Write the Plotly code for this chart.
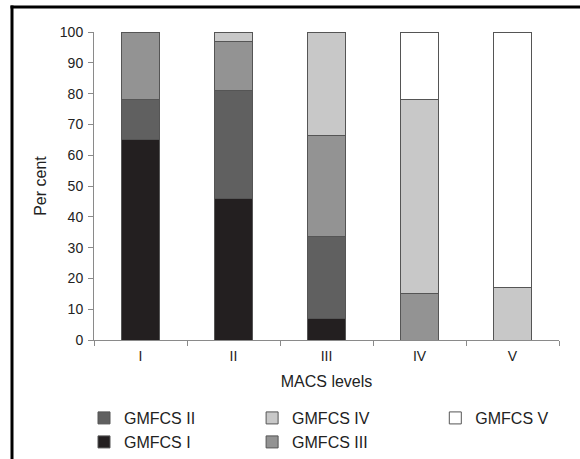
import plotly.graph_objects as go

categories = ["I", "II", "III", "IV", "V"]
gmfcs_1 = [65, 46, 7, None, None]
gmfcs_2 = [13, 35, 26.5, None, None]
gmfcs_3 = [22, 16, 33, 15, None]
gmfcs_4 = [None, 3, 33.5, 63, 17]
gmfcs_5 = [None, None, None, 22, 83]
series_names = ["GMFCS I", "GMFCS II", "GMFCS III", "GMFCS IV", "GMFCS V"]
series_values = [gmfcs_1, gmfcs_2, gmfcs_3, gmfcs_4, gmfcs_5]
colors = ["#231f20", "#606060", "#939393", "#c8c8c8", "#ffffff"]
y_ticks = list(range(0, 101, 10))

# legend placement: (legend id, paper x, container y)
legend_slots = {
    "GMFCS II": ("legend", -0.0215, 0.0893),
    "GMFCS I": ("legend2", -0.0215, 0.0370),
    "GMFCS IV": ("legend3", 0.340, 0.0893),
    "GMFCS III": ("legend4", 0.340, 0.0370),
    "GMFCS V": ("legend5", 0.734, 0.0893),
}

fig = go.Figure()
for name, vals, col in zip(series_names, series_values, colors):
    fig.add_trace(go.Bar(
        x=categories, y=vals, name=name,
        marker=dict(color=col, line=dict(color="#555555", width=1)),
        width=0.41,
        legend=legend_slots[name][0],
    ))

family = "Liberation Sans, Arial, sans-serif"
tick_font = dict(family=family, size=14, color="#222222")
big_font = dict(family=family, size=16, color="#222222")
layout_legends = {}
for name, (lid, lx, ly) in legend_slots.items():
    layout_legends[lid] = dict(x=lx, y=ly, xanchor="left", yanchor="middle",
                               yref="container",
                               bgcolor="rgba(0,0,0,0)", borderwidth=0,
                               font=big_font, itemclick=False)

fig.update_layout(
    width=580, height=459,
    margin=dict(l=94, r=21, t=32, b=119),
    paper_bgcolor="white", plot_bgcolor="white",
    barmode="stack",
    font=tick_font,
    showlegend=True,
    **layout_legends,
    xaxis=dict(
        showline=True, linecolor="#8a8a8a", linewidth=1,
        ticks="outside", tickson="boundaries", ticklen=5, tickcolor="#8a8a8a",
        showgrid=False, zeroline=False, tickfont=tick_font,
        ticklabelstandoff=3,
        title=dict(text="MACS levels", standoff=13, font=big_font),
        automargin=False,
    ),
    yaxis=dict(
        range=[0, 100], tickvals=y_ticks,
        showline=True, linecolor="#8a8a8a", linewidth=1,
        ticks="outside", ticklen=5, tickcolor="#8a8a8a",
        showgrid=False, zeroline=False, tickfont=tick_font,
        ticklabelstandoff=2,
        title=dict(text="Per cent", standoff=9, font=big_font),
        automargin=False,
    ),
    shapes=[
        dict(type="line", xref="paper", yref="paper",
             x0=(12 - 94) / 465, x1=(12 - 94) / 465, y0=(340 - 470) / 308, y1=1 + (32 - 5.5) / 308,
             line=dict(color="black", width=3)),
        dict(type="line", xref="paper", yref="paper",
             x0=(10.5 - 94) / 465, x1=(600 - 94) / 465, y0=1 + (32 - 7) / 308, y1=1 + (32 - 7) / 308,
             line=dict(color="black", width=3)),
    ],
)

fig.write_html("out.html", config={"displayModeBar": False},
               post_script="document.body.style.margin='0';")
